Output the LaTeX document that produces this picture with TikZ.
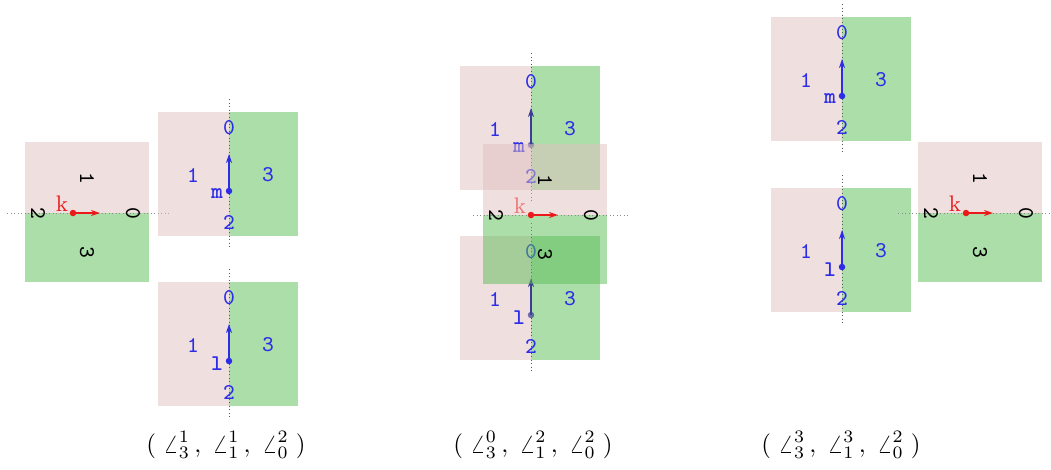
\documentclass[tikz,border=0pt]{standalone}
\usetikzlibrary{calc,arrows.meta}
\definecolor{pinkc}{RGB}{225,191,191}
\definecolor{greenc}{RGB}{89,189,85}
\definecolor{lblue}{RGB}{45,45,232}
\definecolor{kred}{RGB}{235,25,25}
\definecolor{midblue}{RGB}{60,62,150}
\tikzset{
  pinkf/.style={fill=pinkc,fill opacity=0.5},
  greenf/.style={fill=greenc,fill opacity=0.5},
  axisl/.style={densely dotted,black!65,line width=0.4pt},
  vlab/.style={font=\ttfamily\small,text=lblue,inner sep=0pt},
  klab/.style={font=\ttfamily\small,text=black,inner sep=0pt,rotate=-90},
  namel/.style={font=\ttfamily\bfseries\small,inner sep=0pt},
  varr/.style={-{Stealth[length=3.6pt,width=2.4pt]},line width=0.6pt},
  captext/.style={font=\normalsize,inner sep=0pt},
}
\newcommand{\vfr}[6]{% id, x, y, name, arrow colour, dot opacity
  \coordinate (#1) at (#2,#3);
  \fill[pinkf] ($(#1)+(-71,-79)$) rectangle ($(#1)+(0,45)$);
  \fill[greenf] ($(#1)+(0,-79)$) rectangle ($(#1)+(69,45)$);
  \coordinate (#1-a) at ($(#1)+(0,-92)$);
  \coordinate (#1-b) at ($(#1)+(0,58)$);
  \draw[axisl] (#1-a) -- (#1-b);
  \node[vlab] (#1-0) at ($(#1)+(0,-63)$) {0};
  \node[vlab] (#1-2) at ($(#1)+(0,31)$) {2};
  \node[vlab] (#1-1) at ($(#1)+(-36,-16)$) {1};
  \node[vlab] (#1-3) at ($(#1)+(39,-16)$) {3};
  \coordinate (#1-t) at ($(#1)+(0,-37)$);
  \draw[varr,draw=#5] (#1) -- (#1-t);
  \fill[#5,fill opacity=#6] (#1) circle[radius=1.3pt];
  \node[namel,text=lblue] (#1-n) at ($(#1)+(-12,3)$) {#4};
}
\newcommand{\kfr}[6]{% id, x, y, line back, line ahead, name opacity
  \coordinate (#1) at (#2,#3);
  \fill[pinkf] ($(#1)+(-48,-71)$) rectangle ($(#1)+(76,0)$);
  \fill[greenf] ($(#1)+(-48,0)$) rectangle ($(#1)+(76,69)$);
  \coordinate (#1-a) at ($(#1)+(-#4,0)$);
  \coordinate (#1-b) at ($(#1)+(#5,0)$);
  \draw[axisl,black!45] (#1-a) -- (#1-b);
  \node[klab] (#1-0) at ($(#1)+(60,0)$) {0};
  \node[klab] (#1-2) at ($(#1)+(-35,0)$) {2};
  \node[klab] (#1-1) at ($(#1)+(14,-35)$) {1};
  \node[klab] (#1-3) at ($(#1)+(14,39)$) {3};
  \coordinate (#1-t) at ($(#1)+(27,0)$);
  \draw[varr,draw=kred] (#1) -- (#1-t);
  \fill[kred] (#1) circle[radius=1.3pt];
  \node[namel,font=\rmfamily\small,text=kred,text opacity=#6] (#1-n) at ($(#1)+(-11,-9)$) {k};
}
\begin{document}
\begin{tikzpicture}[x=0.4pt,y=-0.4pt]
\path[use as bounding box] (0,0) rectangle (1051,469);
% left panel
\kfr{k1}{73}{213}{66}{97}{1}
\vfr{m1}{229}{191}{m}{lblue}{1}
\vfr{l1}{229}{361}{l}{lblue}{1}
\node[captext] (c1) at (226,445) {$(\;\angle^1_3\,,\;\angle^1_1\,,\;\angle^2_0\;)$};
% middle panel
\vfr{m2}{531}{145}{m}{midblue}{0.7}
\vfr{l2}{531}{315}{l}{midblue}{0.7}
\kfr{k2}{531}{215}{58}{99}{0.55}
\node[captext] (c2) at (533,445) {$(\;\angle^0_3\,,\;\angle^2_1\,,\;\angle^2_0\;)$};
% right panel
\vfr{m3}{842}{96}{m}{lblue}{1}
\vfr{l3}{842}{267}{l}{lblue}{1}
\kfr{k3}{966}{213}{68}{85}{1}
\node[captext] (c3) at (841,445) {$(\;\angle^3_3\,,\;\angle^3_1\,,\;\angle^2_0\;)$};
\end{tikzpicture}
\end{document}
